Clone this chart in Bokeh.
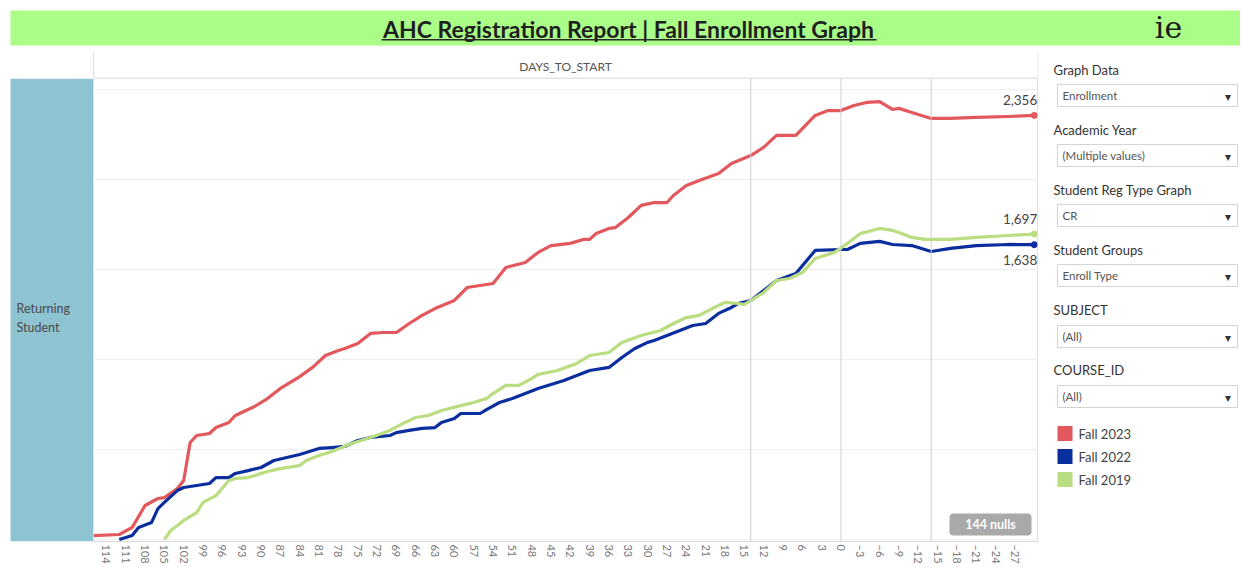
from bokeh.plotting import figure
from bokeh.layouts import column, row
from bokeh.models import (Range1d, FixedTicker, Span, Label, BoxAnnotation, ColumnDataSource)
from bokeh.embed import file_html
from bokeh.resources import INLINE
from bokeh.core.properties import value

# ---------------- data ----------------
series_names = ["Fall 2023", "Fall 2022", "Fall 2019"]

days_2023 = [116, 112, 110, 108, 106, 105, 103, 102, 101, 100, 98, 97, 95, 94, 92, 91, 89, 87, 85, 84,
             82, 80, 78, 77, 75, 73, 71, 69, 67, 65, 63, 60, 58, 56, 54, 52, 49, 47, 45, 42,
             40, 39, 38, 36, 35, 33, 31, 29, 27, 26, 24, 22, 19, 17, 14, 12, 10, 7, 4, 2,
             0, -2, -4, -6, -8, -9, -11, -14, -17, -21, -26, -30]
enroll_2023 = [22, 28, 67, 189, 228, 233, 283, 328, 539, 578, 589, 622, 650, 689, 722, 739, 783, 839, 883, 905,
               956, 1022, 1050, 1061, 1089, 1145, 1150, 1150, 1200, 1245, 1283, 1328, 1400, 1411, 1422, 1511, 1539, 1595, 1633, 1645,
               1667, 1667, 1700, 1728, 1733, 1789, 1856, 1872, 1872, 1911, 1967, 1995, 2033, 2089, 2133, 2178, 2245, 2245, 2356, 2383,
               2383, 2411, 2428, 2433, 2389, 2395, 2372, 2339, 2339, 2345, 2350, 2356]

days_2022 = [112, 110, 109, 107, 106, 105, 103, 102, 100, 98, 97, 95, 94, 92, 90, 88, 86, 84, 81, 79,
             77, 75, 73, 70, 69, 67, 65, 63, 62, 60, 59, 56, 55, 53, 51, 49, 47, 43, 39, 36,
             34, 32, 30, 29, 27, 25, 23, 21, 19, 17, 16, 14, 12, 10, 7, 4, 0, -1, -3, -6,
             -8, -11, -14, -17, -21, -26, -30]
enroll_2022 = [0, 22, 67, 94, 172, 206, 272, 289, 300, 311, 344, 344, 367, 383, 400, 439, 456, 472, 506, 511,
               517, 550, 567, 578, 594, 606, 617, 622, 650, 672, 700, 700, 722, 761, 783, 811, 839, 883, 939, 956,
               1011, 1061, 1095, 1106, 1133, 1161, 1189, 1200, 1256, 1289, 1311, 1328, 1383, 1439, 1478, 1606, 1611, 1611, 1645, 1656,
               1639, 1633, 1600, 1617, 1633, 1639, 1638]

days_2019 = [105, 104, 102, 100, 99, 97, 95, 94, 92, 89, 87, 84, 83, 81, 79, 76, 73, 70, 68, 66,
             64, 62, 59, 57, 55, 54, 52, 50, 48, 47, 44, 41, 39, 36, 34, 31, 28, 26, 24, 22,
             20, 18, 16, 15, 12, 10, 8, 6, 4, 1, -1, -3, -6, -8, -9, -11, -13, -17, -21, -26,
             -30]
enroll_2019 = [0, 50, 106, 150, 206, 244, 328, 339, 344, 378, 394, 411, 439, 467, 489, 533, 567, 606, 644, 678,
               689, 717, 744, 761, 783, 811, 856, 856, 894, 917, 939, 978, 1022, 1039, 1095, 1133, 1161, 1200, 1233, 1245,
               1283, 1317, 1311, 1306, 1372, 1439, 1450, 1483, 1561, 1595, 1645, 1700, 1728, 1717, 1706, 1678, 1667, 1667, 1678, 1689,
               1697]

tick_days = list(range(114, -28, -3))
grid_values = [0, 500, 1000, 1500, 2000, 2500]
ref_days = [14, 0, -14]

filters = [("Graph Data", "Enrollment"),
           ("Academic Year", "(Multiple values)"),
           ("Student Reg Type Graph", "CR"),
           ("Student Groups", "Enroll Type"),
           ("SUBJECT", "(All)"),
           ("COURSE_ID", "(All)")]

colors = ["#E2585C", "#0B2E9E", "#B9DD80"]
FONT = "Lato"

TOTAL_W = 1240
TOP_H = 78
ROW_H = 567 - TOP_H
BOTTOM_BORDER = 26
FRAME_BOTTOM_PAGE = 567 - BOTTOM_BORDER


def deco_fig(w, h, x0, x1, y0, y1, bottom=0):
    f = figure(width=w, height=h, x_range=Range1d(x0, x1), y_range=Range1d(y1, y0),
               x_axis_location=None, y_axis_location=None,
               min_border=0, min_border_left=0, min_border_right=0,
               min_border_top=0, min_border_bottom=bottom,
               toolbar_location=None, output_backend="svg")
    f.xgrid.visible = False
    f.ygrid.visible = False
    f.outline_line_color = None
    f.background_fill_color = "white"
    f.border_fill_color = "white"
    return f


def box(f, X0, X1, Y0, Y1, fill, line=None, lw=1, radius=0):
    b = BoxAnnotation(left=X0, right=X1, top=Y0, bottom=Y1,
                      fill_color=fill if fill else "white", fill_alpha=1.0 if fill else 0,
                      line_color=line, line_width=lw, line_alpha=1.0)
    if radius:
        b.border_radius = radius
    f.add_layout(b)
    return b


def label(f, X, Y, text, size="12px", color="#333333", align="left", style="normal",
          font=FONT, baseline="middle"):
    lb = Label(x=X, y=Y, text=text, text_font=font, text_font_size=size, text_color=color,
               text_align=align, text_baseline=baseline, text_font_style=style)
    f.add_layout(lb)
    return lb


# ---------------- banner + column header ----------------
top = deco_fig(TOTAL_W, TOP_H, 0, TOTAL_W, 0, TOP_H)
box(top, 10, TOTAL_W + 2, 10, 45, "#AAFD86")
label(top, 628, 28, "AHC Registration Report | Fall Enrollment Graph", size="23px",
      color="#1f1f1f", align="center", style="bold")
box(top, 381, 876, 38.5, 40, "#2a2a2a")
label(top, 1168, 27, "ie", size="30px", color="#1a1a1a", align="center", font="DejaVu Serif")
box(top, 92.5, 93.5, 52, 78, "#e0e0e0")
box(top, 1037, 1038, 52, 78, "#e6e6e6")
box(top, 93, 1037, 77, 78, "#e6e6e6")
label(top, 565, 66, "DAYS_TO_START", size="12px", color="#555555", align="center")
label(top, 1053, 69, filters[0][0], size="13px", color="#333333")

# ---------------- row header ----------------
left = deco_fig(93, ROW_H, 0, 93, TOP_H, FRAME_BOTTOM_PAGE, bottom=BOTTOM_BORDER)
box(left, 10, 93, 78, 541, "#8EC3D2")
label(left, 16, 308, "Returning", size="12.5px", color="#4a4a4a")
label(left, 16, 327, "Student", size="12.5px", color="#4a4a4a")

# ---------------- main chart ----------------
p = figure(width=948, height=ROW_H,
           min_border_left=0, min_border_right=4, min_border_top=0, min_border_bottom=BOTTOM_BORDER,
           x_range=Range1d(116, -30.5), y_range=Range1d(-11, 2561),
           toolbar_location=None, output_backend="svg")
p.background_fill_color = "white"
p.border_fill_color = "white"
p.outline_line_color = "#e2e2e2"
p.yaxis.visible = False
p.ygrid.ticker = FixedTicker(ticks=grid_values)
p.ygrid.grid_line_color = "#efefef"
p.xgrid.visible = False

ax = p.xaxis[0]
ax.ticker = FixedTicker(ticks=tick_days)
ax.major_label_orientation = "vertical"
ax.major_label_text_font = FONT
ax.major_label_text_font_size = "11px"
ax.major_label_text_color = "#7a7a7a"
ax.major_label_standoff = 3
ax.major_tick_in = 0
ax.major_tick_out = 0
ax.minor_tick_in = 0
ax.minor_tick_out = 0
ax.major_tick_line_color = None
ax.minor_tick_line_color = None
ax.axis_line_color = "#d8d8d8"

for d in ref_days:
    p.add_layout(Span(location=d, dimension="height", line_color="#cfcfcf", line_width=1))

all_days = [days_2023, days_2022, days_2019]
all_vals = [enroll_2023, enroll_2022, enroll_2019]
for dd, vv, c in zip(all_days, all_vals, colors):
    p.line(dd, vv, line_color=c, line_width=3.2, line_join="round")
    p.scatter([dd[-1]], [vv[-1]], size=6, color=c)

end_src = ColumnDataSource(dict(
    x=[d[-1] for d in all_days],
    y=[v[-1] for v in all_vals],
    t=[f"{v[-1]:,}" for v in all_vals],
    yo=[-15, 15, -15],
))
p.text(x="x", y="y", text="t", source=end_src, x_offset=3, y_offset="yo",
       text_align="right", text_baseline="middle", text_font=value(FONT),
       text_font_size="13.5px", text_color="#444444")

# nulls badge (screen units, inside the frame)
p.add_layout(BoxAnnotation(left=856, right=938, bottom=6, top=28,
                           left_units="screen", right_units="screen",
                           top_units="screen", bottom_units="screen",
                           fill_color="#a9a9a9", fill_alpha=1, line_color=None, border_radius=4))
p.add_layout(Label(x=897, y=17, x_units="screen", y_units="screen", text="144 nulls",
                   text_font=FONT, text_font_size="12.5px", text_font_style="bold",
                   text_color="white", text_align="center", text_baseline="middle"))

# ---------------- right panel ----------------
RX0 = 1041
right = deco_fig(TOTAL_W - RX0, ROW_H, RX0, TOTAL_W, TOP_H, FRAME_BOTTOM_PAGE, bottom=BOTTOM_BORDER)
for i, (title, val) in enumerate(filters):
    y0 = 69 + 60 * i
    by0 = y0 + 15 + (1 if i >= 4 else 0)
    if i > 0:
        label(right, 1053, y0, title, size="13px", color="#333333")
    box(right, 1057, 1237, by0, by0 + 22, "white", line="#d4d4d4")
    label(right, 1062, by0 + 11, val, size="11.5px", color="#555555")
    label(right, 1227, by0 + 12, "\u25BE", size="12px", color="#333333", align="center")

for i, (name, c) in enumerate(zip(series_names, colors)):
    ly = 433 + 23 * i
    box(right, 1057, 1072, ly - 7.5, ly + 7.5, c)
    label(right, 1078, ly, name, size="13px", color="#444444")

layout = column(top, row(left, p, right, spacing=0), spacing=0)
open("out.html", "w").write(file_html(layout, INLINE))
